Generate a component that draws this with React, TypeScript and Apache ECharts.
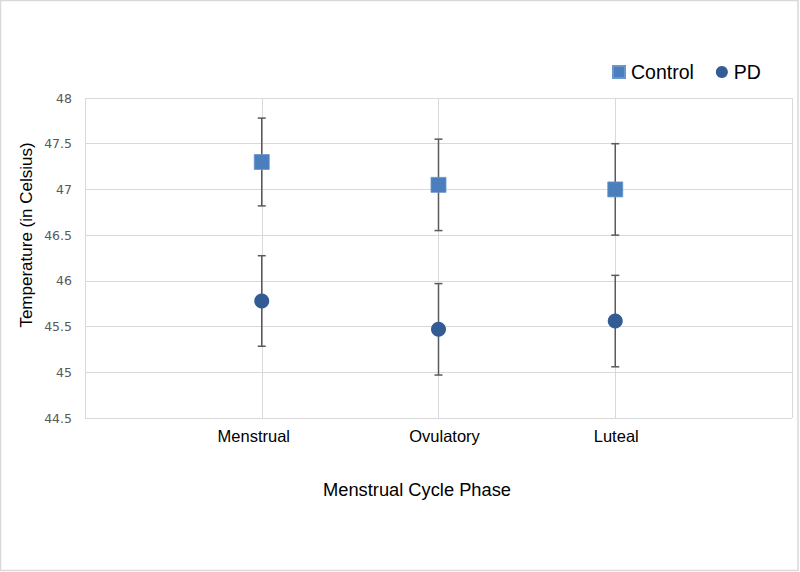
import React, { useEffect, useRef } from "react";
import * as echarts from "echarts";

const categories = ["Menstrual", "Ovulatory", "Luteal"];
const controlMean = [47.3, 47.05, 47.0];
const controlErr = [0.48, 0.5, 0.5];
const pdMean = [45.78, 45.47, 45.56];
const pdErr = [0.495, 0.5, 0.5];
const yMin = 44.5;
const yMax = 48;
const yStep = 0.5;

const errData = (mean: number[], err: number[]) =>
  mean.map((m, i) => [i + 1, m - err[i], m + err[i]]);

const renderErr = (params: any, api: any) => {
  const x = api.value(0);
  const lo = api.value(1);
  const hi = api.value(2);
  const t = api.coord([x, hi]);
  const b = api.coord([x, lo]);
  const hw = 4;
  const style = { stroke: "#5a5a5a", lineWidth: 1.5 };
  return {
    type: "group",
    children: [
      { type: "line", shape: { x1: t[0], y1: t[1], x2: b[0], y2: b[1] }, style },
      { type: "line", shape: { x1: t[0] - hw, y1: t[1], x2: t[0] + hw, y2: t[1] }, style },
      { type: "line", shape: { x1: b[0] - hw, y1: b[1], x2: b[0] + hw, y2: b[1] }, style },
    ],
  };
};

export default function App() {
  const ref = useRef<HTMLDivElement>(null);
  useEffect(() => {
    const chart = echarts.init(ref.current!, null, { renderer: "svg" });
    chart.setOption({
      animation: false,
      backgroundColor: "#ffffff",
      grid: { left: 85, right: 8, top: 98, bottom: 154 },
      legend: {
        left: 607,
        top: 57,
        itemWidth: 12,
        itemHeight: 12,
        itemGap: 22,
        textStyle: {
          fontFamily: "Liberation Sans",
          fontSize: 19.5,
          color: "#000",
          padding: [0, 0, 0, 1],
        },
        data: [
          { name: "Control", icon: "rect" },
          { name: "PD", icon: "circle" },
        ],
      },
      xAxis: {
        type: "value",
        min: 0,
        max: 4,
        interval: 1,
        axisLine: { show: false },
        axisTick: { show: false },
        splitLine: { show: true, lineStyle: { color: "#d9d9d9", width: 1 } },
        axisLabel: {
          margin: 9,
          formatter: (v: number) => {
            const i = Math.round(v) - 1;
            if (i < 0 || i >= categories.length) return "";
            return `{c${i}|${categories[i]}}`;
          },
          rich: {
            c0: { fontFamily: "Liberation Sans", fontSize: 16.5, color: "#000", padding: [0, 16, 0, 0] },
            c1: { fontFamily: "Liberation Sans", fontSize: 16.5, color: "#000", padding: [0, 0, 0, 12] },
            c2: { fontFamily: "Liberation Sans", fontSize: 16.5, color: "#000", padding: [0, 0, 0, 2] },
          },
        },
      },
      yAxis: {
        type: "value",
        min: yMin,
        max: yMax,
        interval: yStep,
        axisLine: { show: false },
        axisTick: { show: false },
        splitLine: { show: true, lineStyle: { color: "#d9d9d9", width: 1 } },
        axisLabel: {
          margin: 13,
          fontFamily: "DejaVu Sans",
          fontSize: 12.5,
          color: "#595959",
        },
      },
      graphic: [
        {
          type: "rect",
          shape: { x: 0.5, y: 0.5, width: 797.5, height: 570 },
          style: { fill: "none", stroke: "#d9d9d9", lineWidth: 1.5 },
          silent: true,
        },
        {
          type: "text",
          x: 26,
          y: 235,
          rotation: Math.PI / 2,
          style: {
            text: "Temperature (in Celsius)",
            fontFamily: "Liberation Sans",
            fontSize: 17,
            fill: "#000",
            align: "center",
            verticalAlign: "middle",
          },
        },
        {
          type: "text",
          x: 417,
          y: 489,
          style: {
            text: "Menstrual Cycle Phase",
            fontFamily: "Liberation Sans",
            fontSize: 18.3,
            fill: "#000",
            align: "center",
            verticalAlign: "middle",
          },
        },
      ],
      series: [
        {
          type: "custom",
          name: "ControlErr",
          renderItem: renderErr,
          encode: { x: 0, y: [1, 2] },
          data: errData(controlMean, controlErr),
          z: 2,
        },
        {
          type: "custom",
          name: "PDErr",
          renderItem: renderErr,
          encode: { x: 0, y: [1, 2] },
          data: errData(pdMean, pdErr),
          z: 2,
        },
        {
          type: "scatter",
          name: "Control",
          symbol: "rect",
          symbolSize: 15,
          itemStyle: { color: "#4a7ebd", borderColor: "#6a96cc", borderWidth: 0.8, opacity: 1 },
          data: controlMean.map((m, i) => [i + 1, m]),
          z: 5,
        },
        {
          type: "scatter",
          name: "PD",
          symbol: "circle",
          symbolSize: 15,
          itemStyle: { color: "#335b94", opacity: 1 },
          data: pdMean.map((m, i) => [i + 1, m]),
          z: 5,
        },
      ],
    });
    return () => chart.dispose();
  }, []);
  return (
    <div
      ref={ref}
      style={{ position: "fixed", left: 0, top: 0, width: 800, height: 572 }}
    />
  );
}
